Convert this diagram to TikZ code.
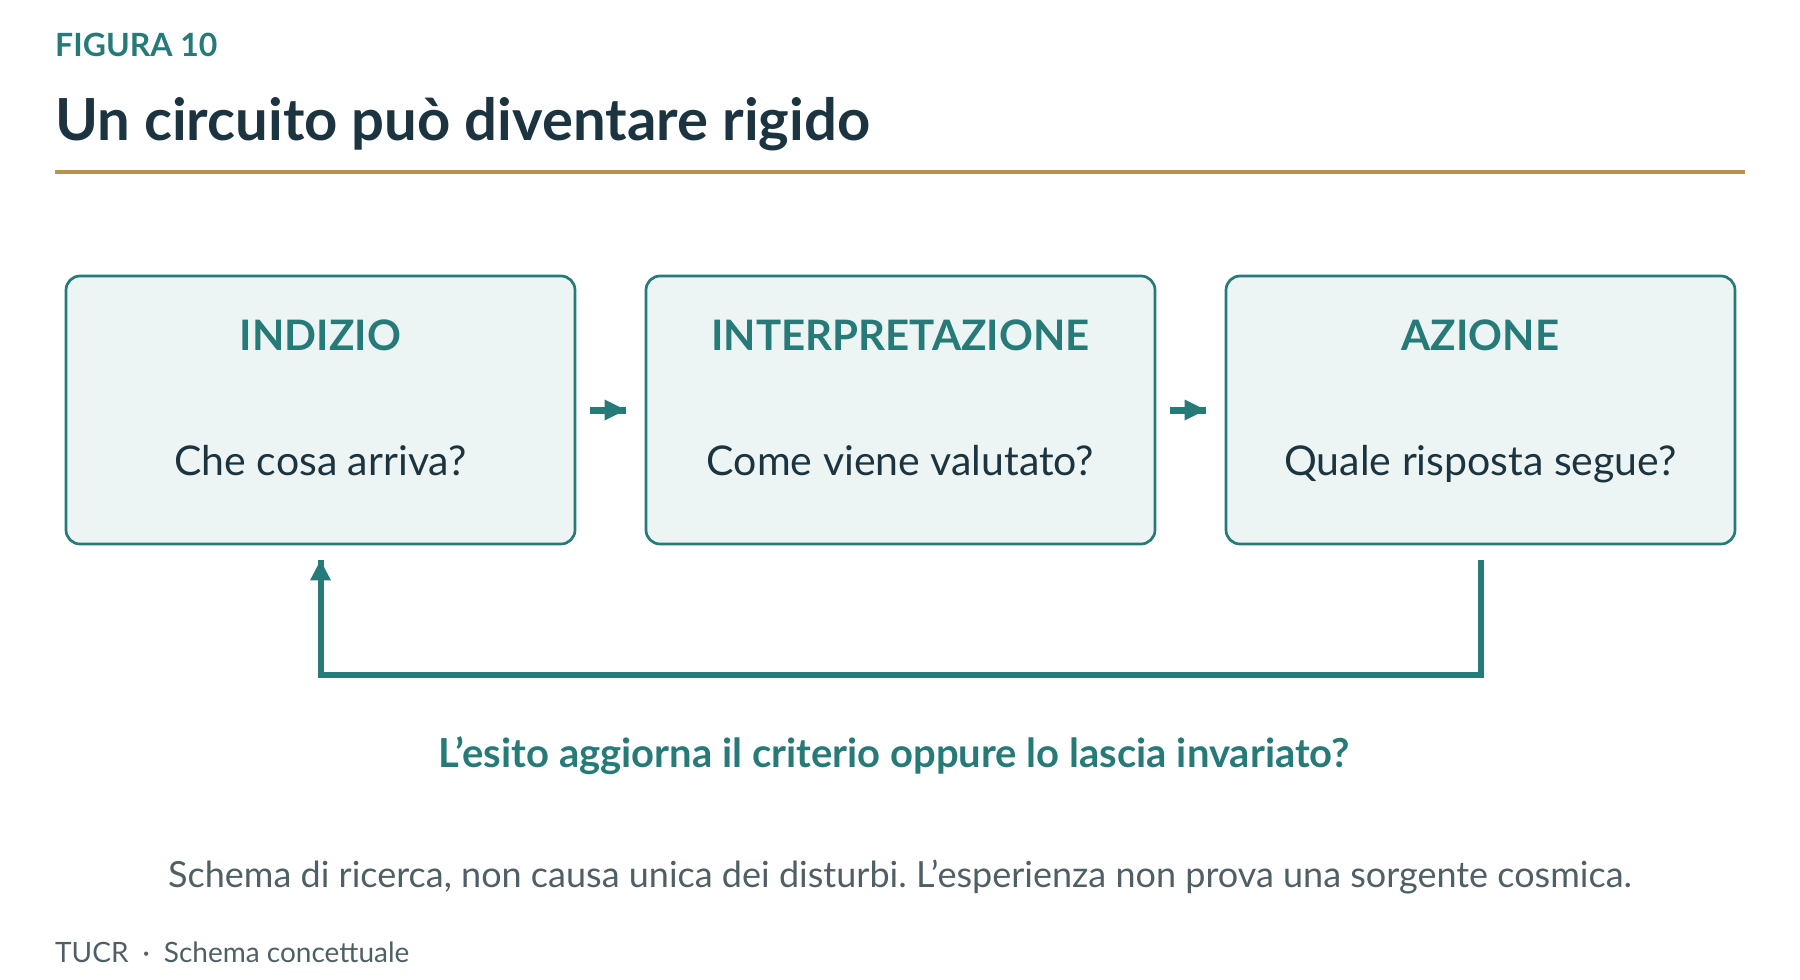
\documentclass[tikz,border=0pt]{standalone}
\usepackage{fontspec}
\setmainfont{Lato}
\usetikzlibrary{arrows.meta}
\definecolor{figteal}{HTML}{267A78}
\definecolor{figink}{HTML}{1C3440}
\definecolor{figgray}{HTML}{4F5F66}
\definecolor{figfill}{HTML}{EDF5F4}
\definecolor{figgold}{HTML}{B8914F}
\frenchspacing
\begin{document}
\begin{tikzpicture}[x=1pt, y=-1pt,
  box/.style={rectangle, rounded corners=14pt, draw=figteal, line width=2.7pt, fill=figfill, minimum width=509pt, minimum height=268pt, inner sep=0pt},
  heading/.style={anchor=base, text=figteal, font=\fontsize{42}{50}\selectfont\bfseries},
  question/.style={anchor=base, text=figink, font=\fontsize{41}{49}\selectfont},
  flow/.style={draw=figteal, line width=7pt, shorten <=14pt, shorten >=19pt, -{Triangle[length=21pt,width=21pt,sep=-7pt,line width=0pt]Rectangle[length=7pt,width=7pt,line width=0pt]}},
  back/.style={draw=figteal, line width=6pt, shorten <=15pt, shorten >=15pt, -{Triangle[length=20pt,width=21pt,sep=-6pt,line width=0pt]Rectangle[length=6pt,width=6pt,line width=0pt]}}]
\useasboundingbox (0,0) rectangle (1800,980);

% header
\node [anchor=base west, inner sep=0pt, text=figteal, font=\fontsize{32}{38}\selectfont\bfseries] (fig) at (55,56) {FIGURA 10};
\node [anchor=base west, inner sep=0pt, text=figink, font=\fontsize{58}{70}\selectfont\bfseries] (title) at (55,140) {Un circuito può diventare rigido};
\draw [figgold, line width=3.2pt] (55,172) -- (1745,172);

% the three steps
\node [box] (i1) at (320.5,410) {};
\node [box] (i2) at (900.5,410) {};
\node [box] (i3) at (1480.5,410) {};

\node [heading] (h1) at ([yshift=-76pt]i1.north) {INDIZIO};
\node [heading] (h2) at ([yshift=-76pt]i2.north) {INTERPRETAZIONE};
\node [heading] (h3) at ([yshift=-76pt]i3.north) {AZIONE};
\node [question] (q1) at ([yshift=-201pt]i1.north) {Che cosa arriva?};
\node [question] (q2) at ([yshift=-201pt]i2.north) {Come viene valutato?};
\node [question] (q3) at ([yshift=-201pt]i3.north) {Quale risposta segue?};

\draw [flow] (i1) -- (i2);
\draw [flow] (i2) -- (i3);
\draw [back] (i3.south) -- ++(0,130) -| (i1.south);

% texts below
\node [anchor=base, text=figteal, font=\fontsize{40}{48}\selectfont\bfseries] (loop) at (894,767) {L’esito aggiorna il criterio oppure lo lascia invariato?};
\node [anchor=base, text=figgray, font=\fontsize{36}{43}\selectfont] (note) at (900,887) {Schema di ricerca, non causa unica dei disturbi. L’esperienza non prova una sorgente cosmica.};
\node [anchor=base west, inner sep=0pt, text=figgray, font=\fontsize{28}{34}\selectfont] (foot) at (55,962) {TUCR\hspace{0.5em}·\hspace{0.5em}Schema concettuale};
\end{tikzpicture}
\end{document}
